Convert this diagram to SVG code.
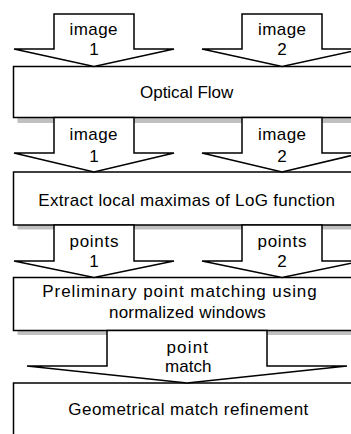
<svg xmlns="http://www.w3.org/2000/svg" width="351" height="434" viewBox="0 0 351 434">
<style>
.box{fill:#fff;stroke:#000;stroke-width:1.5}
.shadow{fill:#c0c0c0;stroke:none}
.arrow{fill:#fff;stroke:#000;stroke-width:1.5;stroke-linejoin:miter}
text{font-family:"Liberation Sans",Arial,sans-serif;font-size:17px;fill:#000}
.c{text-anchor:middle}
</style>
<rect width="351" height="434" fill="#fff"/>
<g id="shadows">
<rect class="shadow" x="17.5" y="71" width="348" height="52"/>
<rect class="shadow" x="17.5" y="176.5" width="348" height="53"/>
<rect class="shadow" x="17.5" y="282" width="348" height="53"/>
</g>
<g id="node-optical-flow">
<rect class="box" x="13.5" y="66.5" width="348" height="51"/>
<text x="140" y="98" textLength="93.3" lengthAdjust="spacing">Optical Flow</text>
</g>
<g id="node-extract">
<rect class="box" x="13.5" y="172" width="348" height="53"/>
<text x="38.3" y="205.5" textLength="296.7" lengthAdjust="spacing">Extract local maximas of LoG function</text>
</g>
<g id="node-preliminary">
<rect class="box" x="13.5" y="277.5" width="348" height="53"/>
<text x="42.3" y="297" textLength="274.4" lengthAdjust="spacing">Preliminary point matching using</text>
<text x="109" y="318" textLength="156.7" lengthAdjust="spacing">normalized windows</text>
</g>
<g id="node-geometrical">
<rect class="box" x="13.5" y="383" width="348" height="60"/>
<text x="68.3" y="415" textLength="240" lengthAdjust="spacing">Geometrical match refinement</text>
</g>
<g id="connectors">
<g id="arrow-image1-a">
<polygon class="arrow" points="54,14 134,14 134,49 174,49 94,66.5 14,49 54,49"/>
<text x="69.5" y="35" textLength="48" lengthAdjust="spacing">image</text><text class="c" x="94" y="55">1</text>
</g>
<g id="arrow-image2-a">
<polygon class="arrow" points="242,14 322,14 322,49 362,49 282,66.5 202,49 242,49"/>
<text x="258" y="35" textLength="48" lengthAdjust="spacing">image</text><text class="c" x="282" y="55">2</text>
</g>
<g id="arrow-image1-b">
<polygon class="arrow" points="54,117.5 134,117.5 134,153 174,153 94,172 14,153 54,153"/>
<text x="69.5" y="140" textLength="48" lengthAdjust="spacing">image</text><text class="c" x="94" y="162">1</text>
</g>
<g id="arrow-image2-b">
<polygon class="arrow" points="242,117.5 322,117.5 322,153 362,153 282,172 202,153 242,153"/>
<text x="258" y="140" textLength="48" lengthAdjust="spacing">image</text><text class="c" x="282" y="162">2</text>
</g>
<g id="arrow-points1">
<polygon class="arrow" points="54,225 134,225 134,261 174,261 94,277.5 14,261 54,261"/>
<text x="69.5" y="247" textLength="49" lengthAdjust="spacing">points</text><text class="c" x="94" y="267">1</text>
</g>
<g id="arrow-points2">
<polygon class="arrow" points="242,225 322,225 322,261 362,261 282,277.5 202,261 242,261"/>
<text x="257.5" y="247" textLength="49" lengthAdjust="spacing">points</text><text class="c" x="282" y="267">2</text>
</g>
<g id="arrow-match">
<polygon class="arrow" points="107,330.5 267,330.5 267,366 347,366 187,383 27,366 107,366"/>
<text x="166.5" y="353" textLength="41.5" lengthAdjust="spacing">point</text><text x="165" y="372" textLength="46.5" lengthAdjust="spacing">match</text>
</g>
</g>
</svg>
